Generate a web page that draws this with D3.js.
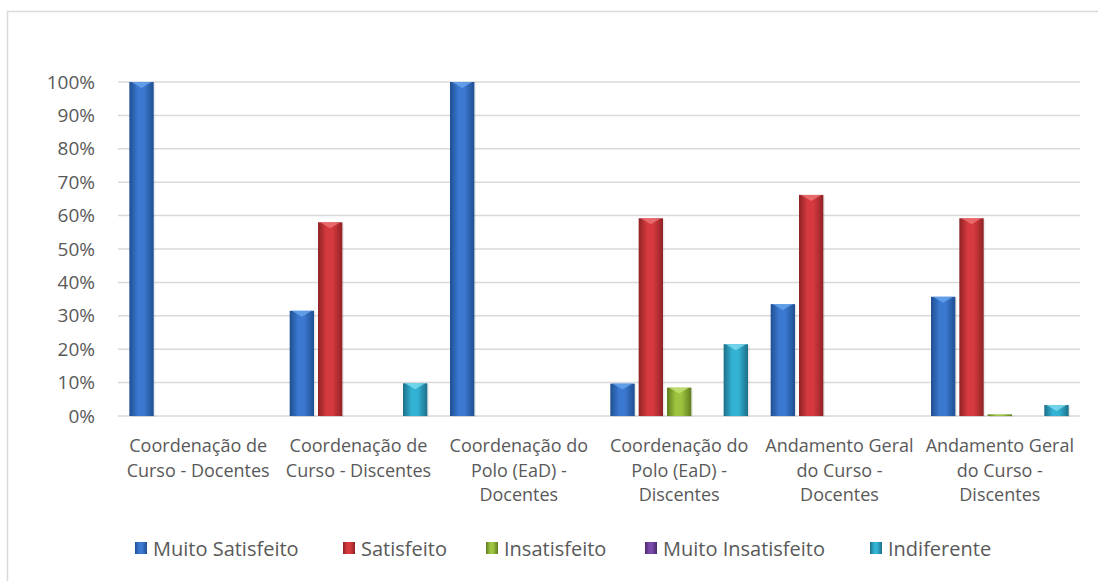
<!DOCTYPE html>
<html><head><meta charset="utf-8">
<script src="https://cdn.jsdelivr.net/npm/d3@7"></script>
<style>body{margin:0;background:#fff}svg{display:block}text{font-family:"Open Sans",sans-serif;fill:#595959}</style>
</head><body>
<svg id="c" width="1098" height="581"></svg>
<script>
const categories = [
  ["Coordenação de","Curso - Docentes"],
  ["Coordenação de","Curso - Discentes"],
  ["Coordenação do","Polo (EaD) -","Docentes"],
  ["Coordenação do","Polo (EaD) -","Discentes"],
  ["Andamento Geral","do Curso -","Docentes"],
  ["Andamento Geral","do Curso  -","Discentes"]
];
const seriesNames = ["Muito Satisfeito","Satisfeito","Insatisfeito","Muito Insatisfeito","Indiferente"];
const muitoSatisfeito   = [1.00, 0.315, 1.00, 0.097, 0.335, 0.357];
const satisfeito        = [0, 0.58, 0, 0.592, 0.662, 0.592];
const insatisfeito      = [0, 0, 0, 0.085, 0, 0.005];
const muitoInsatisfeito = [0, 0, 0, 0, 0, 0];
const indiferente       = [0, 0.098, 0, 0.215, 0, 0.033];
const yTicks = [0,0.1,0.2,0.3,0.4,0.5,0.6,0.7,0.8,0.9,1.0];
const colors = [
  {mid:"#3b78d0", edge:"#1f4f91", cap:"#6aa6ee"},
  {mid:"#d63a3e", edge:"#8f2226", cap:"#ee7476"},
  {mid:"#9cc43e", edge:"#5f7d1f", cap:"#c6e27a"},
  {mid:"#7a4aa8", edge:"#4b2a6b", cap:"#a580cc"},
  {mid:"#33b2d4", edge:"#1d6f88", cap:"#7fdcf0"}
];
const seriesValues = [muitoSatisfeito, satisfeito, insatisfeito, muitoInsatisfeito, indiferente];

const svg = d3.select("#c");
svg.append("rect").attr("x",0).attr("y",0).attr("width",1098).attr("height",581).attr("fill","#fff");
svg.append("rect").attr("x",7.5).attr("y",11.5).attr("width",1120).attr("height",600)
  .attr("fill","none").attr("stroke","#d9d9d9").attr("stroke-width",1.5);

const defs = svg.append("defs");
colors.forEach((c,i)=>{
  const g = defs.append("linearGradient").attr("id","g"+i).attr("x1","0").attr("x2","1").attr("y1","0").attr("y2","0");
  g.append("stop").attr("offset","0%").attr("stop-color",c.edge);
  g.append("stop").attr("offset","35%").attr("stop-color",c.mid);
  g.append("stop").attr("offset","60%").attr("stop-color",c.mid);
  g.append("stop").attr("offset","100%").attr("stop-color",c.edge);
});

const x = d3.scaleBand().domain(d3.range(categories.length)).range([118,1080]);
const xs = d3.scaleBand().domain(d3.range(seriesNames.length)).range([0,x.bandwidth()]).paddingInner(0.14).paddingOuter(0.4);
const y = d3.scaleLinear().domain([0,1]).range([416,82]);

// gridlines
svg.append("g").selectAll("line").data(yTicks).join("line")
  .attr("x1",118).attr("x2",1080).attr("y1",d=>y(d)).attr("y2",d=>y(d))
  .attr("stroke","#d9d9d9").attr("stroke-width",1.5);

// y axis
const yAxis = d3.axisLeft(y).tickValues(yTicks).tickFormat(d3.format(".0%")).tickSize(0).tickPadding(23);
const ya = svg.append("g").attr("transform","translate(118,0)").call(yAxis);
ya.select(".domain").remove();
ya.selectAll("text").style("font-size","19px").style("fill","#595959").style("font-family","'Open Sans',sans-serif");

// bars
const groups = svg.append("g").selectAll("g").data(categories).join("g")
  .attr("transform",(d,i)=>`translate(${x(i)},0)`);
groups.each(function(cat,ci){
  const g = d3.select(this);
  seriesValues.forEach((vals,si)=>{
    const v = vals[ci];
    if(!v) return;
    const bx = xs(si), bw = xs.bandwidth();
    const top = y(v), h = y(0)-y(v);
    g.append("rect").attr("x",bx+1.5).attr("y",top+1).attr("width",bw).attr("height",h)
      .attr("fill","#000").attr("opacity",0.08);
    g.append("rect").attr("x",bx).attr("y",top).attr("width",bw).attr("height",Math.max(h,1))
      .attr("fill",`url(#g${si})`);
    if(h>6){
      g.append("path").attr("d",`M${bx+2},${top} L${bx+bw-2},${top} L${bx+bw/2},${top+6} Z`)
        .attr("fill",colors[si].cap).attr("opacity",0.8);
    }
  });
});

// category labels
const lab = svg.append("g").selectAll("text").data(categories).join("text")
  .attr("text-anchor","middle").style("font-size","18px");
lab.each(function(lines,i){
  const t = d3.select(this);
  lines.forEach((ln,k)=>{
    t.append("tspan").attr("x",x(i)+x.bandwidth()/2).attr("y",452+k*24.5).text(ln);
  });
});

// legend
const legendX = [135, 343, 486, 645, 870];
const leg = svg.append("g");
seriesNames.forEach((n,i)=>{
  leg.append("rect").attr("x",legendX[i]).attr("y",542).attr("width",12).attr("height",12).attr("fill",`url(#g${i})`);
  leg.append("text").attr("x",legendX[i]+18).attr("y",556).style("font-size","20px").text(n);
});
</script>
</body></html>
